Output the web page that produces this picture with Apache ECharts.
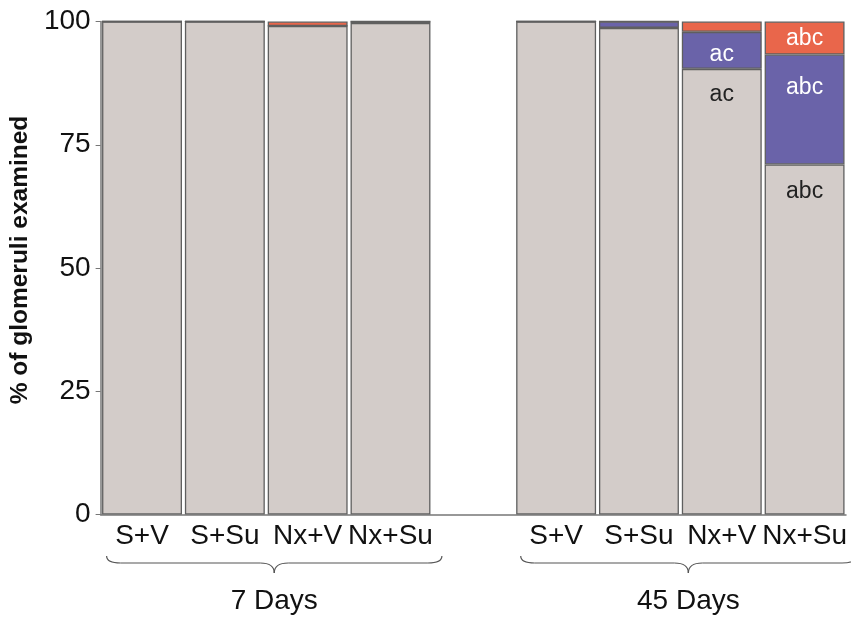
<!DOCTYPE html>
<html>
<head>
<meta charset="utf-8">
<script src="https://cdn.jsdelivr.net/npm/echarts@6/dist/echarts.min.js"></script>
<style>
  html, body { margin: 0; padding: 0; background: #fff; }
  #chart { width: 851px; height: 617px; }
</style>
</head>
<body>
<div id="chart"></div>
<script>
// Treatment groups and time points
const treatments = ['S+V', 'S+Su', 'Nx+V', 'Nx+Su'];
const groups = ['7 Days', '45 Days'];

// Percentage of glomeruli per class (7 days then 45 days)
const normal7 = [100, 100, 99.1, 99.7];
const mild7 = [0, 0, 0, 0.3];
const severe7 = [0, 0, 0.9, 0];
const normal45 = [100, 98.7, 90.4, 71.0];
const mild45 = [0, 1.3, 7.5, 22.3];
const severe45 = [0, 0, 2.1, 6.7];

// Significance letters (45 days)
const normalSig45 = ['', '', 'ac', 'abc'];
const mildSig45 = ['', '', 'ac', 'abc'];
const severeSig45 = ['', '', '', 'abc'];

const yTicks = [0, 25, 50, 75, 100];

// Category axis: 7-day bars, an empty slot, then 45-day bars
const categories = treatments.concat([''], treatments);
const joinGroups = (a, b) => a.concat([null], b);

const FONT = "'Liberation Sans', Arial, sans-serif";
const GRAY = '#d3ccc9', BLUE = '#6a63a9', RED = '#e9664b', EDGE = '#5f5f5f';

function withLabels(values, sigs45, color, distance) {
  return values.map((v, i) => {
    const j = i - 5;
    const sig = j >= 0 ? sigs45[j] : '';
    if (v === null) return null;
    if (!sig) return v;
    return {
      value: v,
      label: {
        show: true, position: 'insideTop', distance: distance[j],
        formatter: sig, color: color, fontSize: 23, fontFamily: FONT
      }
    };
  });
}

const normalData = withLabels(joinGroups(normal7, normal45), normalSig45, '#222', [0, 0, 14, 16]);
const mildData = withLabels(joinGroups(mild7, mild45), mildSig45, '#fff', [0, 0, 11, 22]);
const severeData = withLabels(joinGroups(severe7, severe45), severeSig45, '#fff', [0, 0, 0, 6]);

const barStyle = (c) => ({ color: c, borderColor: EDGE, borderWidth: 1.3 });

const chart = echarts.init(document.getElementById('chart'), null, { renderer: 'canvas' });
const option = {
  animation: false,
  backgroundColor: '#fff',
  grid: { left: 100, right: 5, top: 21.5, bottom: 102.5 },
  xAxis: {
    type: 'category',
    data: categories,
    axisLine: { lineStyle: { color: '#777', width: 1.5 } },
    axisTick: { show: false },
    axisLabel: { color: '#111', fontSize: 28, fontFamily: FONT, margin: 8, interval: 0 }
  },
  yAxis: {
    type: 'value',
    min: yTicks[0], max: yTicks[yTicks.length - 1], interval: 25,
    name: '% of glomeruli examined',
    nameLocation: 'middle',
    nameGap: 63,
    nameTextStyle: { fontSize: 24.5, fontWeight: 'bold', color: '#111', fontFamily: FONT, padding: [0, 0, 0, 16] },
    axisLine: { show: true, lineStyle: { color: '#777', width: 1.5 } },
    axisTick: { show: true, length: 5, lineStyle: { color: '#777' } },
    axisLabel: { color: '#111', fontSize: 28, fontFamily: FONT, margin: 10 },
    splitLine: { show: false }
  },
  series: [
    { name: 'normal', type: 'bar', stack: 'g', data: normalData, barCategoryGap: '3.5%', itemStyle: barStyle(GRAY) },
    { name: 'mild', type: 'bar', stack: 'g', data: mildData, itemStyle: barStyle(BLUE) },
    { name: 'severe', type: 'bar', stack: 'g', data: severeData, itemStyle: barStyle(RED) }
  ]
};
chart.setOption(option);

// Curly braces and time-point captions under each group
function drawGroups() {
  const elements = [];
  const stroke = { fill: null, stroke: '#555', lineWidth: 1.2 };
  const curve = (x1, y1, cx, cy, x2, y2) => ({
    type: 'bezierCurve', silent: true,
    shape: { x1: x1, y1: y1, cpx1: cx, cpy1: cy, x2: x2, y2: y2 }, style: stroke
  });
  const seg = (x1, y1, x2, y2) => ({
    type: 'line', silent: true, shape: { x1: x1, y1: y1, x2: x2, y2: y2 }, style: stroke
  });
  groups.forEach((g, gi) => {
    const first = gi * (treatments.length + 1);
    const last = first + treatments.length - 1;
    const pA = chart.convertToPixel({ xAxisIndex: 0 }, first);
    const pB = chart.convertToPixel({ xAxisIndex: 0 }, last);
    const step = (pB - pA) / (treatments.length - 1);
    const xc = (pA + pB) / 2 + 8;
    const half = (pB - pA) / 2 + step * 0.5 + 2;
    const x0 = xc - half, x1 = xc + half;
    const yTop = 556, yMid = 563, yTip = 573, r = 14;
    elements.push(curve(x0, yTop, x0, yMid, x0 + r, yMid));
    elements.push(seg(x0 + r, yMid, xc - r, yMid));
    elements.push(curve(xc - r, yMid, xc, yMid, xc, yTip));
    elements.push(curve(xc, yTip, xc, yMid, xc + r, yMid));
    elements.push(seg(xc + r, yMid, x1 - r, yMid));
    elements.push(curve(x1 - r, yMid, x1, yMid, x1, yTop));
    elements.push({
      type: 'text', silent: true,
      x: xc, y: 601,
      style: { text: g, fill: '#111', fontSize: 28, fontFamily: FONT, align: 'center', verticalAlign: 'middle' }
    });
  });
  chart.setOption({ graphic: { elements: elements } });
}
drawGroups();
</script>
</body>
</html>
